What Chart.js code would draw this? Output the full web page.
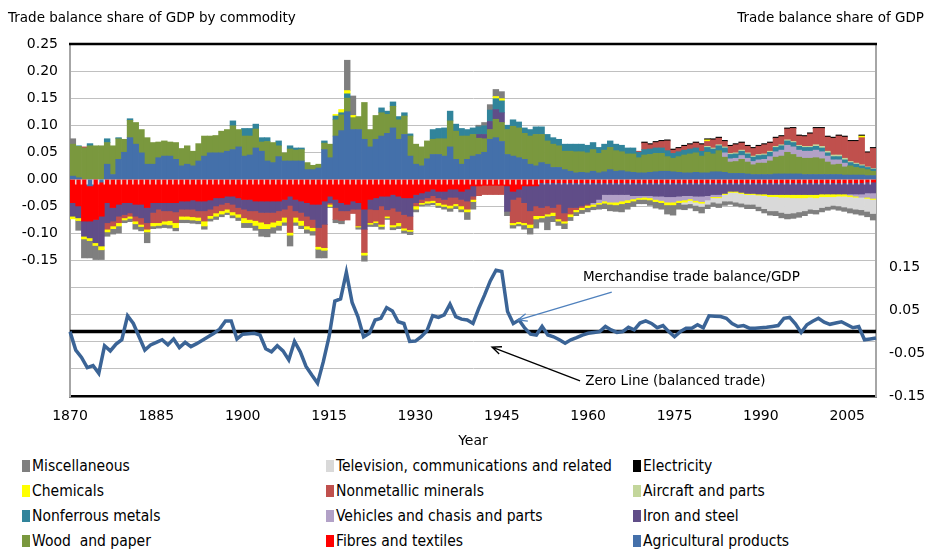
<!DOCTYPE html>
<html>
<head>
<meta charset="utf-8">
<script src="https://cdn.jsdelivr.net/npm/chart.js@4.4.1/dist/chart.umd.min.js"></script>
<style>
  body { margin: 0; background: #fff; }
  #wrap { position: relative; width: 929px; height: 556px; font-family: "DejaVu Sans", Verdana, sans-serif; color: #000; }
  #chart { position: absolute; left: 0; top: 0; }
  .title { position: absolute; top: 8px; font-size: 13.5px; line-height: 18px; white-space: nowrap; }
  #legend { position: absolute; left: 22px; top: 457px; display: grid; grid-template-columns: 304px 307px auto; grid-auto-rows: 25px; }
  .item { font-family: "DejaVu Sans Condensed", "Liberation Sans Narrow", "Liberation Sans", sans-serif; font-size: 15.5px; line-height: 18px; white-space: pre; }
  .item i { display: inline-block; width: 8px; height: 12px; margin-right: 2px; vertical-align: -1px; }
</style>
</head>
<body>
<div id="wrap">
  <canvas id="chart" width="929" height="452"></canvas>
  <div class="title" style="left:8px">Trade balance share of GDP by commodity</div>
  <div class="title" style="right:5px">Trade balance share of GDP</div>
  <div id="legend"></div>
</div>
<script>
const years = [];
for (let y = 1870; y <= 2010; y++) years.push(y);
const yearLabels = [1870, 1885, 1900, 1915, 1930, 1945, 1960, 1975, 1990, 2005];
const rightTicks = [-0.15, -0.05, 0.05, 0.15];

// share of GDP, one value per year 1870-2010
const agricultural = [
  0.006, 0.003, 0, -0.012, 0, -0.005, 0.028, 0.009, 0.037, 0.050,
  0.077, 0.065, 0.049, 0.028, 0.028, 0.040, 0.043, 0.043, 0.037, 0.025,
  0.028, 0.025, 0.034, 0.043, 0.049, 0.049, 0.049, 0.052, 0.055, 0.060,
  0.043, 0.045, 0.058, 0.052, 0.034, 0.031, 0.042, 0.034, 0.034, 0.034,
  0.034, 0.018, 0.018, 0.021, 0.055, 0.040, 0.080, 0.090, 0.125, 0.092,
  0.092, 0.074, 0.060, 0.074, 0.080, 0.085, 0.095, 0.074, 0.083, 0.043,
  0.028, 0.025, 0.038, 0.046, 0.046, 0.043, 0.060, 0.037, 0.028, 0.037,
  0.043, 0.046, 0.050, 0.074, 0.077, 0.070, 0.046, 0.043, 0.040, 0.037,
  0.028, 0.025, 0.031, 0.028, 0.022, 0.022, 0.018, 0.015, 0.012, 0.013,
  0.012, 0.015, 0.012, 0.014, 0.018, 0.015, 0.016, 0.014, 0.013, 0.012,
  0.012, 0.013, 0.014, 0.015, 0.015, 0.014, 0.013, 0.012, 0.012, 0.013,
  0.012, 0.012, 0.014, 0.014, 0.013, 0.011, 0.011, 0.011, 0.010, 0.009,
  0.009, 0.009, 0.009, 0.010, 0.010, 0.010, 0.010, 0.010, 0.009, 0.009,
  0.009, 0.009, 0.009, 0.009, 0.009, 0.008, 0.008, 0.008, 0.008, 0.007,
  0.007
];
const fibres = [
  -0.043, -0.049, -0.077, -0.065, -0.074, -0.063, -0.043, -0.052, -0.046, -0.043,
  -0.043, -0.046, -0.046, -0.052, -0.043, -0.043, -0.043, -0.043, -0.043, -0.040,
  -0.040, -0.038, -0.040, -0.040, -0.038, -0.034, -0.034, -0.031, -0.031, -0.034,
  -0.037, -0.037, -0.040, -0.040, -0.040, -0.040, -0.040, -0.037, -0.031, -0.037,
  -0.040, -0.043, -0.046, -0.046, -0.040, -0.031, -0.037, -0.043, -0.046, -0.040,
  -0.043, -0.055, -0.037, -0.034, -0.031, -0.031, -0.028, -0.031, -0.034, -0.034,
  -0.028, -0.025, -0.022, -0.018, -0.022, -0.022, -0.018, -0.018, -0.022, -0.018,
  -0.012, -0.012, -0.011, -0.011, -0.011, -0.011, -0.012, -0.022, -0.018, -0.012,
  -0.012, -0.012, -0.006, -0.006, -0.006, -0.006, -0.006, -0.006, -0.006, -0.006,
  -0.006, -0.006, -0.006, -0.006, -0.006, -0.006, -0.006, -0.006, -0.006, -0.006,
  -0.006, -0.006, -0.006, -0.006, -0.006, -0.006, -0.006, -0.006, -0.006, -0.006,
  -0.006, -0.006, -0.006, -0.006, -0.006, -0.006, -0.006, -0.006, -0.006, -0.006,
  -0.006, -0.006, -0.006, -0.006, -0.006, -0.006, -0.006, -0.006, -0.006, -0.006,
  -0.006, -0.006, -0.006, -0.006, -0.006, -0.006, -0.006, -0.006, -0.006, -0.005,
  -0.005
];
const wood = [
  0.059, 0.058, 0.058, 0.062, 0.062, 0.062, 0.040, 0.053, 0.038, 0.024,
  0.032, 0.040, 0.043, 0.049, 0.040, 0.029, 0.028, 0.026, 0.031, 0.032,
  0.034, 0.027, 0.032, 0.037, 0.031, 0.032, 0.040, 0.040, 0.044, 0.032,
  0.037, 0.035, 0.035, 0.017, 0.036, 0.037, 0.020, 0.015, 0.022, 0.020,
  0.021, 0.013, 0.008, 0.007, 0.012, 0.025, 0.030, 0.029, 0.025, 0.022,
  0.024, 0.068, 0.032, 0.044, 0.043, 0.035, 0.040, 0.036, 0.034, 0.037,
  0.037, 0.035, 0.033, 0.028, 0.029, 0.032, 0.048, 0.052, 0.052, 0.043,
  0.040, 0.030, 0.025, 0.018, 0.034, 0.035, 0.046, 0.055, 0.055, 0.048,
  0.052, 0.058, 0.052, 0.043, 0.043, 0.040, 0.034, 0.037, 0.039, 0.038,
  0.037, 0.040, 0.036, 0.040, 0.041, 0.038, 0.035, 0.033, 0.034, 0.028,
  0.033, 0.033, 0.034, 0.033, 0.027, 0.025, 0.029, 0.033, 0.035, 0.036,
  0.031, 0.038, 0.033, 0.039, 0.028, 0.021, 0.022, 0.026, 0.022, 0.018,
  0.021, 0.021, 0.025, 0.031, 0.033, 0.040, 0.036, 0.031, 0.030, 0.030,
  0.031, 0.029, 0.023, 0.018, 0.019, 0.015, 0.017, 0.014, 0.012, 0.011,
  0.008
];
const ironSteel = [
  -0.025, -0.022, -0.028, -0.031, -0.043, -0.055, -0.037, -0.025, -0.022, -0.022,
  -0.019, -0.022, -0.025, -0.028, -0.018, -0.012, -0.015, -0.015, -0.017, -0.015,
  -0.015, -0.017, -0.018, -0.018, -0.017, -0.015, -0.012, -0.012, -0.015, -0.018,
  -0.018, -0.021, -0.018, -0.021, -0.021, -0.021, -0.018, -0.018, -0.017, -0.021,
  -0.021, -0.025, -0.028, -0.043, -0.043, -0.012, -0.015, -0.015, -0.012, -0.015,
  -0.012, -0.037, -0.018, -0.022, -0.018, -0.025, -0.025, -0.028, -0.031, -0.034,
  -0.015, -0.012, -0.012, -0.012, -0.012, -0.015, -0.015, -0.015, -0.015, -0.022,
  -0.019, 0.007, 0.008, 0.015, 0.018, 0.018, -0.047, -0.015, -0.015, -0.031,
  -0.046, -0.037, -0.046, -0.043, -0.046, -0.040, -0.056, -0.046, -0.046, -0.043,
  -0.040, -0.037, -0.031, -0.022, -0.022, -0.022, -0.022, -0.022, -0.024, -0.024,
  -0.024, -0.024, -0.025, -0.025, -0.026, -0.026, -0.025, -0.024, -0.024, -0.025,
  -0.025, -0.024, -0.022, -0.022, -0.020, -0.016, -0.016, -0.018, -0.020, -0.020,
  -0.021, -0.021, -0.022, -0.022, -0.022, -0.022, -0.022, -0.022, -0.022, -0.022,
  -0.022, -0.021, -0.021, -0.021, -0.021, -0.021, -0.021, -0.021, -0.021, -0.020,
  -0.020
];
const vehicles = [
  0, 0, 0, 0, 0, 0, 0, 0, 0, 0,
  0, 0, 0, 0, 0, 0, 0, 0, 0, 0,
  0, 0, 0, 0, 0, 0, 0, 0, 0, 0,
  0, 0, 0, 0, 0, 0, 0, 0, 0, 0,
  0, 0, 0, 0, 0, 0, 0, 0, 0, 0,
  0, 0, 0, 0, 0, 0, 0, 0, 0, 0,
  0, 0, 0, 0, 0, 0, 0, 0, 0, 0,
  0, 0, 0, 0, 0, 0, 0, 0, 0, 0,
  0, 0, 0, 0, 0, 0, 0, 0, 0, 0,
  0, -0.003, -0.006, -0.012, -0.014, -0.014, -0.012, -0.010, -0.006, -0.004,
  -0.003, -0.004, -0.006, -0.008, -0.010, -0.010, -0.008, -0.008, -0.006, -0.008,
  -0.010, -0.008, -0.004, -0.004, 0.008, 0.006, 0.006, 0.007, 0.007, 0.006,
  0.006, 0.007, 0.008, 0.010, 0.011, 0.013, 0.014, 0.013, 0.013, 0.013,
  0.014, 0.013, 0.011, 0.009, 0.008, 0.007, -0.002, -0.004, -0.006, -0.008,
  -0.010
];
const nonferrous = [
  0, 0.001, 0, 0.004, 0, 0, 0.007, 0, 0.002, 0,
  0.003, 0, 0, 0, 0, 0, 0, 0, 0, 0,
  0, 0, 0, 0, 0, 0, 0, 0, 0.009, 0,
  0.014, 0.014, 0.009, 0.008, 0.007, 0, 0.009, 0, 0.006, 0.004,
  0.003, 0, 0, 0, 0.004, 0, 0.007, 0.004, 0.008, 0,
  0, 0, 0, 0, 0.009, 0.006, 0.008, 0.006, 0.006, 0.004,
  0, 0, 0, 0.018, 0.019, 0.020, 0.018, 0.013, 0.014, 0.012,
  0.012, 0.014, 0.016, 0.021, 0.020, 0.022, 0.008, 0.012, 0.011, 0.010,
  0.012, 0.014, 0.014, 0.012, 0.012, 0.012, 0.013, 0.013, 0.014, 0.014,
  0.014, 0.013, 0.011, 0.011, 0.012, 0.012, 0.012, 0.011, 0.011, 0.010,
  0.010, 0.010, 0.010, 0.010, 0.011, 0.009, 0.009, 0.009, 0.009, 0.009,
  0.009, 0.009, 0.009, 0.009, 0.009, 0.008, 0.008, 0.008, 0.008, 0.008,
  0.008, 0.008, 0.008, 0.008, 0.008, 0.008, 0.008, 0.007, 0.007, 0.007,
  0.007, 0.007, 0.006, 0.006, 0.006, 0.006, 0.006, 0.006, 0.005, 0.004,
  0.004
];
const aircraft = [
  0, 0, 0, 0, 0, 0, 0, 0, 0, 0,
  0, 0, 0, 0, 0, 0, 0, 0, 0, 0,
  0, 0, 0, 0, 0, 0, 0, 0, 0, 0,
  0, 0, 0, 0, 0, 0, 0, 0, 0, 0,
  0, 0, 0, 0, 0, 0, 0, 0, 0, 0,
  0, 0, 0, 0, 0, 0, 0, 0, 0, 0,
  0, 0, 0, 0, 0, 0, 0, 0, 0, 0,
  0, 0, 0, 0, 0, 0, 0, 0, 0, 0,
  0, 0, 0, 0, 0, 0, 0, 0, 0, 0,
  0, 0, 0, 0, 0, 0, 0, 0, 0, 0,
  0, 0, 0, 0, 0, 0, 0, 0, 0, 0,
  0, 0.002, 0.002, 0.002, 0.002, 0.002, 0.002, 0.002, 0.002, 0.002,
  0.002, 0.002, 0.002, 0.002, 0.002, 0.002, 0.002, 0.002, 0.002, 0.002,
  0.003, 0.003, 0.003, 0.003, 0.003, 0.003, 0.002, 0.002, 0.002, 0.001,
  0.001
];
const nonmetallic = [
  0, 0, 0.002, 0, 0, 0, -0.012, -0.009, -0.012, -0.006,
  -0.006, -0.009, -0.012, -0.012, -0.019, -0.025, -0.019, -0.018, -0.020, -0.013,
  -0.013, -0.014, -0.012, -0.019, -0.012, -0.013, -0.012, -0.012, -0.014, -0.012,
  -0.016, -0.016, -0.018, -0.018, -0.021, -0.018, -0.018, -0.015, -0.050, -0.012,
  -0.015, -0.018, -0.015, -0.035, -0.043, -0.003, -0.022, -0.018, -0.017, -0.008,
  -0.031, -0.043, -0.025, -0.021, -0.034, -0.012, -0.031, -0.021, -0.025, -0.025,
  -0.006, -0.006, -0.006, -0.009, -0.009, -0.009, -0.015, -0.012, -0.012, -0.015,
  -0.006, -0.018, -0.017, -0.017, -0.017, -0.017, 0, -0.043, -0.045, -0.037,
  -0.025, -0.018, -0.015, -0.015, -0.009, -0.027, -0.015, -0.012, -0.004, -0.003,
  -0.002, 0, 0, 0, 0, 0, 0, 0, 0, 0.002,
  0.012, 0.008, 0.010, 0.012, 0.018, 0.006, 0.006, 0.007, 0.008, 0.009,
  0.012, 0.009, 0.015, 0.012, 0.010, 0.013, 0.015, 0.013, 0.012, 0.014,
  0.015, 0.017, 0.015, 0.015, 0.015, 0.020, 0.024, 0.017, 0.018, 0.023,
  0.030, 0.033, 0.026, 0.031, 0.035, 0.039, 0.037, 0.040, 0.050, 0.026,
  0.037
];
const chemicals = [
  -0.005, -0.005, -0.005, -0.005, -0.005, -0.007, -0.005, -0.005, -0.006, -0.004,
  -0.004, -0.005, -0.004, -0.005, -0.006, -0.005, -0.006, -0.008, -0.009, -0.006,
  -0.006, -0.006, -0.006, -0.009, -0.005, -0.006, -0.006, -0.006, -0.006, -0.006,
  -0.009, -0.006, -0.009, -0.012, -0.009, -0.009, -0.009, -0.009, -0.005, -0.009,
  -0.009, -0.006, -0.006, -0.005, -0.005, -0.004, 0.003, 0.006, 0.006, 0.004,
  -0.002, -0.005, -0.003, -0.003, -0.004, -0.003, -0.004, -0.006, -0.004, -0.003,
  -0.006, -0.003, -0.004, -0.004, -0.005, -0.004, -0.005, -0.004, -0.006, -0.005,
  -0.004, 0, 0, 0, 0.004, 0.004, 0, -0.004, -0.004, -0.004,
  -0.006, -0.006, -0.004, -0.004, -0.006, -0.004, -0.004, -0.005, -0.004, -0.004,
  -0.004, -0.004, -0.003, -0.004, -0.004, -0.005, -0.005, -0.005, -0.004, -0.003,
  -0.004, -0.004, -0.004, -0.004, -0.005, -0.005, -0.004, -0.004, -0.003, -0.003,
  -0.003, 0.003, -0.002, -0.002, -0.002, -0.002, -0.002, -0.002, -0.002, -0.002,
  -0.002, -0.003, -0.004, -0.004, -0.005, -0.005, -0.006, -0.006, -0.006, -0.005,
  -0.006, -0.005, -0.005, -0.005, -0.004, -0.004, -0.003, -0.002, 0.003, -0.002,
  -0.002
];
const electricity = [
  0, 0, 0, 0, 0, 0, 0, 0, 0, 0,
  0, 0, 0, 0, 0, 0, 0, 0, 0, 0,
  0, 0, 0, 0, 0, 0, 0, 0, 0, 0,
  0, 0, 0, 0, 0, 0, 0, 0, 0, 0,
  0, 0, 0, 0, 0, 0, 0, 0, 0, 0,
  0, 0, 0, 0, 0, 0, 0, 0, 0, 0,
  0, 0, 0, 0, 0, 0, 0, 0, 0, 0,
  0, 0, 0, 0, 0, 0, 0, 0, 0, 0,
  0, 0, 0, 0, 0, 0, 0, 0, 0, 0,
  0, 0, 0, 0, 0, 0, 0, 0, 0, 0,
  0.002, 0.002, 0.002, 0.002, 0.002, 0.002, 0.002, 0.002, 0.002, 0.002,
  0.002, 0.002, 0.002, 0.002, 0.002, 0.002, 0.002, 0.002, 0.002, 0.002,
  0.002, 0.002, 0.002, 0.002, 0.002, 0.002, 0.002, 0.002, 0.002, 0.002,
  0.002, 0.002, 0.002, 0.002, 0.002, 0.002, 0.002, 0.002, 0.002, 0.002,
  0.002
];
const television = [
  0, 0, 0, 0, 0, 0, 0, 0, 0, 0,
  0, 0, 0, 0, 0, 0, 0, 0, 0, 0,
  0, 0, 0, 0, 0, 0, 0, 0, 0, 0,
  0, 0, 0, 0, 0, 0, 0, 0, 0, 0,
  0, 0, 0, 0, 0, 0, 0, 0, 0, 0,
  0, 0, 0, 0, 0, 0, 0, 0, 0, 0,
  0, 0, 0, 0, 0, 0, 0, 0, 0, 0,
  0, 0, 0, 0, 0, 0, 0, 0, 0, 0,
  0, 0, 0, 0, 0, 0, 0, 0, 0, 0,
  0, 0, 0, 0, 0, 0, 0, 0, 0, 0,
  0, 0, 0, 0, 0, 0, 0, -0.004, -0.006, -0.006,
  -0.006, -0.008, -0.008, -0.010, -0.012, -0.016, -0.018, -0.018, -0.018, -0.018,
  -0.021, -0.024, -0.026, -0.026, -0.028, -0.030, -0.028, -0.026, -0.024, -0.022,
  -0.022, -0.020, -0.018, -0.016, -0.018, -0.020, -0.021, -0.022, -0.023, -0.024,
  -0.026
];
const miscellaneous = [
  0.010, -0.018, -0.035, -0.032, -0.026, -0.018, -0.008, -0.010, -0.013, -0.005,
  -0.006, -0.010, -0.008, -0.020, -0.005, -0.005, -0.006, -0.006, -0.006, -0.006,
  -0.006, -0.006, -0.006, -0.006, -0.005, -0.006, -0.005, -0.004, -0.005, -0.006,
  -0.009, -0.009, -0.009, -0.014, -0.015, -0.011, -0.009, -0.006, -0.020, -0.006,
  -0.006, -0.007, -0.008, -0.016, -0.014, -0.002, -0.006, -0.006, 0.056, 0.036,
  -0.004, -0.011, -0.004, -0.007, -0.005, -0.003, -0.005, -0.005, -0.005, -0.006,
  -0.005, -0.003, -0.004, -0.004, -0.004, -0.005, -0.006, -0.005, -0.005, -0.014,
  -0.014, 0.003, 0.006, 0.010, 0.013, 0.013, -0.008, -0.006, -0.004, -0.008,
  -0.012, -0.017, -0.008, -0.025, -0.011, -0.008, -0.010, -0.007, -0.007, -0.007,
  -0.008, -0.006, -0.009, -0.010, -0.012, -0.012, -0.015, -0.012, -0.010, -0.008,
  -0.008, -0.010, -0.012, -0.012, -0.017, -0.019, -0.012, -0.010, -0.008, -0.010,
  -0.012, -0.008, -0.008, -0.008, -0.008, -0.006, -0.007, -0.007, -0.008, -0.008,
  -0.008, -0.008, -0.008, -0.009, -0.010, -0.010, -0.010, -0.010, -0.009, -0.008,
  -0.008, -0.008, -0.007, -0.007, -0.008, -0.008, -0.009, -0.009, -0.010, -0.010,
  -0.012
];
// merchandise trade balance / GDP (right axis)
const tradeBalance = [
  0.000, -0.043, -0.060, -0.084, -0.079, -0.097, -0.033, -0.045, -0.029, -0.019,
  0.037, 0.019, -0.012, -0.043, -0.031, -0.025, -0.019, -0.031, -0.017, -0.037,
  -0.025, -0.035, -0.028, -0.020, -0.012, -0.004, 0.006, 0.025, 0.025, -0.017,
  -0.006, -0.005, -0.004, -0.008, -0.040, -0.047, -0.033, -0.045, -0.066, -0.023,
  -0.047, -0.081, -0.101, -0.120, -0.070, -0.012, 0.071, 0.076, 0.138, 0.068,
  0.035, -0.012, -0.004, 0.027, 0.031, 0.056, 0.048, 0.023, 0.019, -0.023,
  -0.022, -0.012, 0.002, 0.037, 0.033, 0.039, 0.064, 0.035, 0.029, 0.027,
  0.019, 0.054, 0.085, 0.118, 0.143, 0.140, 0.047, 0.019, 0.027, 0.008,
  -0.006, -0.008, 0.012, -0.008, -0.012, -0.019, -0.027, -0.019, -0.014, -0.008,
  -0.004, -0.002, 0.000, 0.012, 0.004, -0.002, 0.000, 0.010, 0.004, 0.020,
  0.025, 0.019, 0.009, 0.014, 0.000, -0.012, 0.000, 0.008, 0.008, 0.016,
  0.009, 0.037, 0.036, 0.035, 0.031, 0.019, 0.012, 0.014, 0.008, 0.008,
  0.009, 0.010, 0.012, 0.014, 0.031, 0.033, 0.018, -0.002, 0.016, 0.024,
  0.031, 0.022, 0.017, 0.020, 0.023, 0.016, 0.009, 0.012, -0.019, -0.017,
  -0.015
];

// stacking order: first entry sits next to zero
const series = [
  ['Agricultural products', agricultural, '#4470aa'],
  ['Fibres and textiles', fibres, '#ff0000'],
  ['Wood  and paper', wood, '#7a983e'],
  ['Iron and steel', ironSteel, '#604d88'],
  ['Vehicles and chasis and parts', vehicles, '#b2a1c7'],
  ['Nonferrous metals', nonferrous, '#31849b'],
  ['Aircraft and parts', aircraft, '#c3d69b'],
  ['Nonmetallic minerals', nonmetallic, '#c0504d'],
  ['Chemicals', chemicals, '#ffff00'],
  ['Electricity', electricity, '#000000'],
  ['Television, communications and related', television, '#d9d9d9'],
  ['Miscellaneous', miscellaneous, '#7f7f7f']
];
const legendOrder = [
  'Miscellaneous', 'Television, communications and related', 'Electricity',
  'Chemicals', 'Nonmetallic minerals', 'Aircraft and parts',
  'Nonferrous metals', 'Vehicles and chasis and parts', 'Iron and steel',
  'Wood  and paper', 'Fibres and textiles', 'Agricultural products'
];

const tickFont = { family: 'DejaVu Sans', size: 14 };
const fmt = v => (Math.round(v * 100) / 100).toFixed(2);

function arrowLine(ctx, x1, y1, x2, y2, color, width) {
  ctx.strokeStyle = color;
  ctx.lineWidth = width;
  ctx.beginPath();
  ctx.moveTo(x1, y1);
  ctx.lineTo(x2, y2);
  const ang = Math.atan2(y1 - y2, x1 - x2);
  ctx.moveTo(x2 + 10 * Math.cos(ang - 0.4), y2 + 10 * Math.sin(ang - 0.4));
  ctx.lineTo(x2, y2);
  ctx.lineTo(x2 + 10 * Math.cos(ang + 0.4), y2 + 10 * Math.sin(ang + 0.4));
  ctx.stroke();
}

const decorations = {
  id: 'decorations',
  beforeDatasetsDraw(chart) {
    const { ctx, chartArea: a, scales } = chart;
    const y0 = scales.y2.getPixelForValue(0);
    ctx.save();
    ctx.strokeStyle = '#000';
    ctx.lineWidth = 3.5;
    ctx.beginPath();
    ctx.moveTo(a.left, y0);
    ctx.lineTo(a.right, y0);
    ctx.stroke();
    ctx.restore();
  },
  afterDatasetsDraw(chart) {
    const { ctx, chartArea: a, scales } = chart;
    const { x, x2, y, y2 } = scales;
    ctx.save();
    // small ticks where the category axis crosses zero
    const z = y.getPixelForValue(0);
    ctx.strokeStyle = 'rgba(235,235,235,0.9)';
    ctx.lineWidth = 1.5;
    ctx.beginPath();
    for (let i = 1; i < years.length; i++) {
      const xb = (x.getPixelForValue(i - 1) + x.getPixelForValue(i)) / 2;
      ctx.moveTo(xb, z);
      ctx.lineTo(xb, z + 5);
    }
    ctx.stroke();
    // frame top
    ctx.strokeStyle = '#000';
    ctx.lineWidth = 2.5;
    ctx.beginPath();
    ctx.moveTo(a.left - 1, a.top);
    ctx.lineTo(a.right + 1, a.top);
    ctx.stroke();
    // notes, placed in year / right-axis units
    const px = yr => x2.getPixelForValue(yr - 1870);
    ctx.font = '13.5px "DejaVu Sans"';
    ctx.fillStyle = '#000';
    ctx.textBaseline = 'middle';
    ctx.textAlign = 'left';
    ctx.fillText('Merchandise trade balance/GDP', px(1959.1), y2.getPixelForValue(0.125));
    ctx.fillText('Zero Line (balanced trade)', px(1959.5), y2.getPixelForValue(-0.117));
    arrowLine(ctx, px(1964.1), y2.getPixelForValue(0.092), px(1947.8), y2.getPixelForValue(0.027), '#4f81bd', 1.3);
    arrowLine(ctx, px(1958.6), y2.getPixelForValue(-0.115), px(1943.3), y2.getPixelForValue(-0.036), '#000', 1.3);
    ctx.restore();
  }
};

new Chart(document.getElementById('chart'), {
  type: 'bar',
  data: {
    labels: years,
    datasets: [
      {
        type: 'line',
        label: 'Merchandise trade balance/GDP',
        data: tradeBalance,
        xAxisID: 'x2',
        yAxisID: 'y2',
        borderColor: '#3b6496',
        borderWidth: 3.5,
        pointRadius: 0,
        tension: 0,
        order: 0
      },
      ...series.map(([label, values, color]) => ({
        type: 'bar',
        label,
        data: values.map(v => (v === 0 ? null : v)),
        backgroundColor: color,
        xAxisID: 'x',
        yAxisID: 'y',
        grouped: false,
        barPercentage: 1,
        categoryPercentage: 1,
        inflateAmount: 0.35,
        borderWidth: 0,
        order: 1
      }))
    ]
  },
  options: {
    responsive: false,
    animation: false,
    layout: { padding: { top: 44, left: 0, right: 0, bottom: 0 } },
    plugins: { legend: { display: false }, tooltip: { enabled: false } },
    scales: {
      x: { type: 'category', display: false, stacked: true, offset: true },
      x2: {
        type: 'category',
        position: 'bottom',
        offset: false,
        grid: { display: false, drawTicks: false },
        border: { display: true, color: '#000', width: 2.5 },
        ticks: {
          autoSkip: false, maxRotation: 0, minRotation: 0, padding: 12,
          color: '#000', font: tickFont,
          callback: (v, i) => (yearLabels.includes(years[i]) ? String(years[i]) : '')
        },
        title: { display: true, text: 'Year', color: '#000', font: tickFont, padding: { top: 0, bottom: 2 } },
        afterFit: s => { s.height = 56; }
      },
      y: {
        position: 'left',
        stacked: true,
        min: -0.40,
        max: 0.25,
        grid: { color: '#c0c0c0', lineWidth: 1, drawTicks: false },
        border: { color: '#a6a6a6', width: 2 },
        ticks: {
          stepSize: 0.05, padding: 12, color: '#000', font: tickFont,
          callback: v => (Math.round(v * 100) / 100 < -0.151 ? '' : fmt(v))
        },
        afterFit: s => { s.width = 70; }
      },
      y2: {
        position: 'right',
        min: -0.15,
        max: 0.67,
        grid: { display: false, drawTicks: false },
        border: { color: '#a6a6a6', width: 2 },
        afterBuildTicks: s => { s.ticks = rightTicks.map(v => ({ value: v })); },
        ticks: { padding: 13, color: '#000', font: tickFont, callback: v => fmt(v) },
        afterFit: s => { s.width = 53; }
      }
    }
  },
  plugins: [decorations]
});

const legendBox = document.getElementById('legend');
legendOrder.forEach(name => {
  const s = series.find(d => d[0] === name);
  const el = document.createElement('div');
  el.className = 'item';
  const sw = document.createElement('i');
  sw.style.background = s[2];
  el.appendChild(sw);
  el.appendChild(document.createTextNode(name));
  legendBox.appendChild(el);
});
</script>
</body>
</html>
